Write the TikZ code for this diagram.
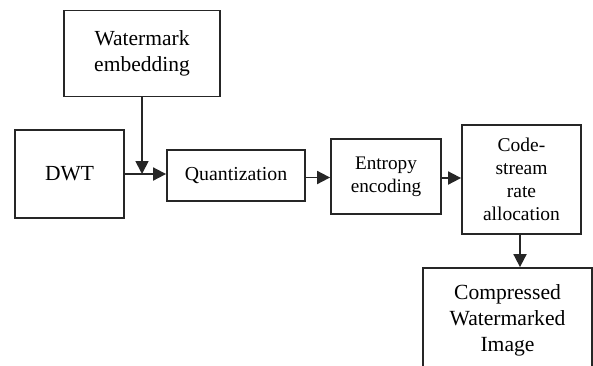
\documentclass[tikz,border=0pt]{standalone}
\usepackage{fontspec}
\setmainfont{Liberation Serif}
\usetikzlibrary{arrows.meta}
\begin{document}
\begin{tikzpicture}[x=1pt,y=-1pt,
  box/.style={draw=black!85, line width=1.8pt, inner sep=0pt, align=center, font=\fontsize{21.5}{26}\selectfont},
  sbox/.style={box, font=\fontsize{19.5}{23}\selectfont},
  conn/.style={line width=1.8pt, draw=black!85, -{Triangle[length=13pt,width=13pt]}}]
\useasboundingbox (0,0) rectangle (593,365);
\clip (0,0) rectangle (593,365);
\fill[white] (0,0) rectangle (593,365);
\node[box, minimum width=156pt, minimum height=86pt] (wm) at (142,53.5) {Watermark\\embedding};
\node[box, minimum width=109pt, minimum height=88pt] (dwt) at (69.5,174) {DWT};
\node[sbox, minimum width=138pt, minimum height=51pt, font=\fontsize{19.8}{23}\selectfont] (q) at (236,175.5) {Quantization};
\node[sbox, minimum width=110pt, minimum height=75pt, font=\fontsize{19.2}{23}\selectfont] (ent) at (386,176.5) {Entropy\\encoding};
\node[sbox, minimum width=119pt, minimum height=109pt, font=\fontsize{19.5}{23}\selectfont] (cs) at (521.5,179.5) {Code-\\stream\\rate\\allocation};
\node[box, minimum width=169pt, minimum height=104pt, font=\fontsize{21.6}{26}\selectfont] (cw) at (507.5,320) {Compressed\\Watermarked\\Image};
\coordinate (j) at (wm.south |- dwt.east);
\draw[conn] (dwt.east) -- (q.west |- dwt.east);
\draw[conn] (wm.south) -- (j);
\draw[conn] (q.east |- 0,177.5) -- (ent.west |- 0,177.5);
\draw[conn] (ent.east |- 0,178) -- (cs.west |- 0,178);
\draw[conn] (cs.south -| 520,0) -- (cw.north -| 520,0);
\end{tikzpicture}
\end{document}
